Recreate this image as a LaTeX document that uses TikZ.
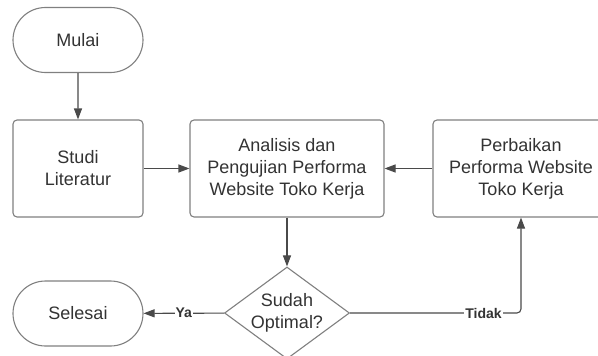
\documentclass[tikz,border=0pt]{standalone}
\usepackage{fontspec}
\setmainfont{Liberation Sans}
\usetikzlibrary{arrows.meta,shapes.geometric,shapes.misc}
\definecolor{txt}{HTML}{333333}
\definecolor{bord}{HTML}{808080}
\definecolor{conn}{HTML}{4A4A4A}
\begin{document}
\begin{tikzpicture}[x=1pt,y=-1pt,
  base/.style={draw=bord,line width=1.1pt,text=txt,font=\fontsize{18}{22}\selectfont,align=center,inner sep=0pt},
  term/.style={base,rounded rectangle,minimum width=130pt,minimum height=65pt},
  proc/.style={base,rectangle,rounded corners=4pt,minimum height=97pt},
  dec/.style={base,diamond,aspect=1.36,minimum width=125pt,minimum height=92pt},
  conn/.style={draw=conn,line width=1.1pt,-{Triangle[length=11pt,width=8pt]}},
  lbl/.style={fill=white,text=txt,font=\fontsize{14}{16}\selectfont\bfseries,inner sep=1pt}]
\clip (0,0) rectangle (598,356);
\fill[white] (0,0) rectangle (598,356);
\node[term] (mulai) at (78,40) {Mulai};
\node[proc,minimum width=130pt] (studi) at (78,168.5) {Studi\\Literatur};
\node[proc,minimum width=194pt] (anal) at (287,168.5) {Analisis dan\\Pengujian Performa\\Website Toko Kerja};
\node[proc,minimum width=176pt] (perb) at (521,168.5) {Perbaikan\\Performa Website\\Toko Kerja};
\node[dec] (dec) at (287,313) {Sudah\\Optimal?};
\node[term] (selesai) at (78,313.5) {Selesai};
\coordinate (corner) at (perb.south |- dec.east);
\draw[conn] (mulai) -- (studi);
\draw[conn] (studi) -- (anal);
\draw[conn] (perb) -- (anal);
\draw[conn] (anal) -- (dec);
\draw[conn] (dec) -- node[lbl]{Ya} (selesai);
\draw[conn,rounded corners=4pt] (dec.east) -- (corner) -- (perb.south);
\node[lbl] (tidak) at (483.5,313) {Tidak};
\end{tikzpicture}
\end{document}
